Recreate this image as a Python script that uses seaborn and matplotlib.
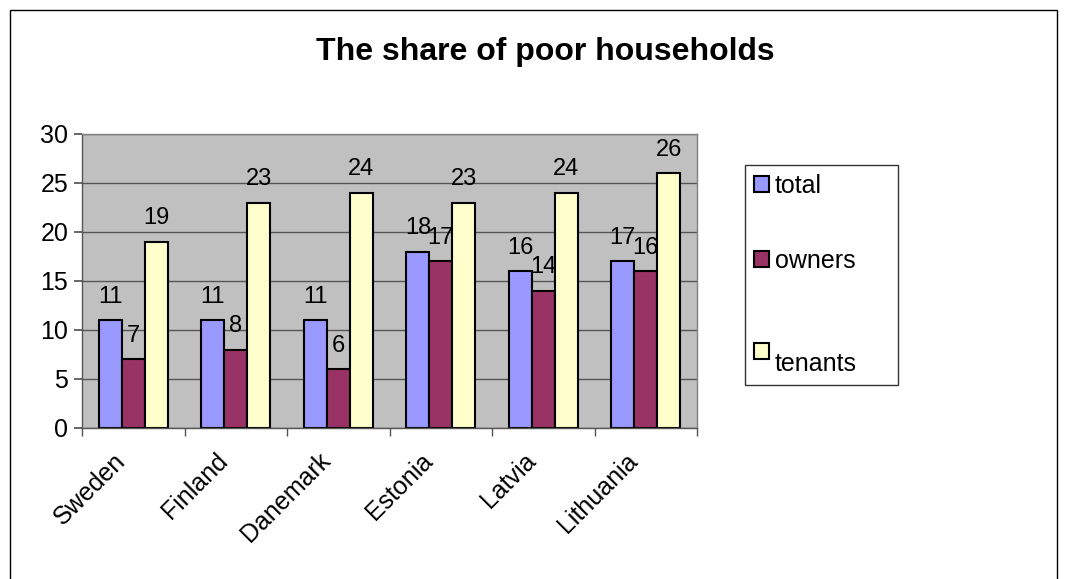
import matplotlib
matplotlib.use("Agg")
import matplotlib.pyplot as plt
import matplotlib.transforms as mtransforms
import seaborn as sns
import pandas as pd
import numpy as np
from matplotlib.patches import Rectangle

countries = ["Sweden", "Finland", "Danemark", "Estonia", "Latvia", "Lithuania"]
total = [11, 11, 11, 18, 16, 17]
owners = [7, 8, 6, 17, 14, 16]
tenants = [19, 23, 24, 23, 24, 26]
series = ["total", "owners", "tenants"]
legend_labels = ["total", "owners", "\ntenants"]
colors = ["#9999FF", "#993366", "#FFFFCC"]

df = pd.DataFrame({
    "country": countries * 3,
    "series": ["total"] * 6 + ["owners"] * 6 + ["tenants"] * 6,
    "value": total + owners + tenants,
})

sns.set_theme(style="white")
plt.rcParams["font.family"] = ["Liberation Sans", "DejaVu Sans"]
plt.rcParams["text.color"] = "black"
plt.rcParams["xtick.color"] = "black"
plt.rcParams["ytick.color"] = "black"

fig = plt.figure(figsize=(10.67, 5.79), dpi=100)
ax = fig.add_axes([0.0769, 0.2608, 0.5764, 0.5078])
ax.set_facecolor("#C0C0C0")

sns.barplot(data=df, x="country", y="value", hue="series", hue_order=series,
            order=countries, palette=colors, width=0.67, edgecolor="black",
            linewidth=1.5, ax=ax, legend=True, saturation=1)

for c in ax.containers:
    ax.bar_label(c, padding=9, fontsize=17, color="black")

ax.set_ylim(0, 30)
ax.set_xlim(-0.5, 5.5)
ax.set_yticks(range(0, 31, 5))
ax.yaxis.grid(True, color="#555555", linewidth=1)
ax.set_axisbelow(True)
ax.set_xlabel("")
ax.set_ylabel("")
ax.tick_params(axis="y", labelsize=18, length=6, color="#555555", left=True, pad=4,
               labelcolor="black")
ax.tick_params(axis="x", which="major", labelsize=18, length=0, pad=6, labelcolor="black")
ax.set_xticks(np.arange(-0.5, 6.0, 1.0), minor=True)
ax.tick_params(axis="x", which="minor", length=6, color="#555555", bottom=True)
offset = mtransforms.ScaledTranslation(-0.2, -0.12, fig.dpi_scale_trans)
for lab in ax.get_xticklabels():
    lab.set_rotation(45)
    lab.set_ha("right")
    lab.set_rotation_mode("anchor")
    lab.set_transform(lab.get_transform() + offset)
for s in ["left", "bottom"]:
    ax.spines[s].set_color("#555555")
    ax.spines[s].set_linewidth(1)
for s in ["top", "right"]:
    ax.spines[s].set_color("#808080")
    ax.spines[s].set_linewidth(1)

handles, _ = ax.get_legend_handles_labels()
leg = ax.legend(handles, legend_labels, loc="upper left",
                bbox_to_anchor=(1.078, 0.0, 0.249, 0.895), mode="expand",
                frameon=True, fontsize=18, labelspacing=2.05, handlelength=0.6,
                handleheight=0.6, handletextpad=0.25, borderpad=0.35,
                borderaxespad=0, fancybox=False, edgecolor="black")
leg.get_frame().set_linewidth(1)
for t in leg.get_texts():
    t.set_color("black")

fig.text(0.511, 0.91, "The share of poor households", ha="center", va="center",
         fontsize=23, fontweight="bold", color="black")

fig.patches.append(Rectangle((10 / 1067, -0.01), 1047 / 1067, 1 - 10 / 579 + 0.01,
                             transform=fig.transFigure, fill=False,
                             edgecolor="black", linewidth=1))

fig.savefig("out.png", dpi=100)
